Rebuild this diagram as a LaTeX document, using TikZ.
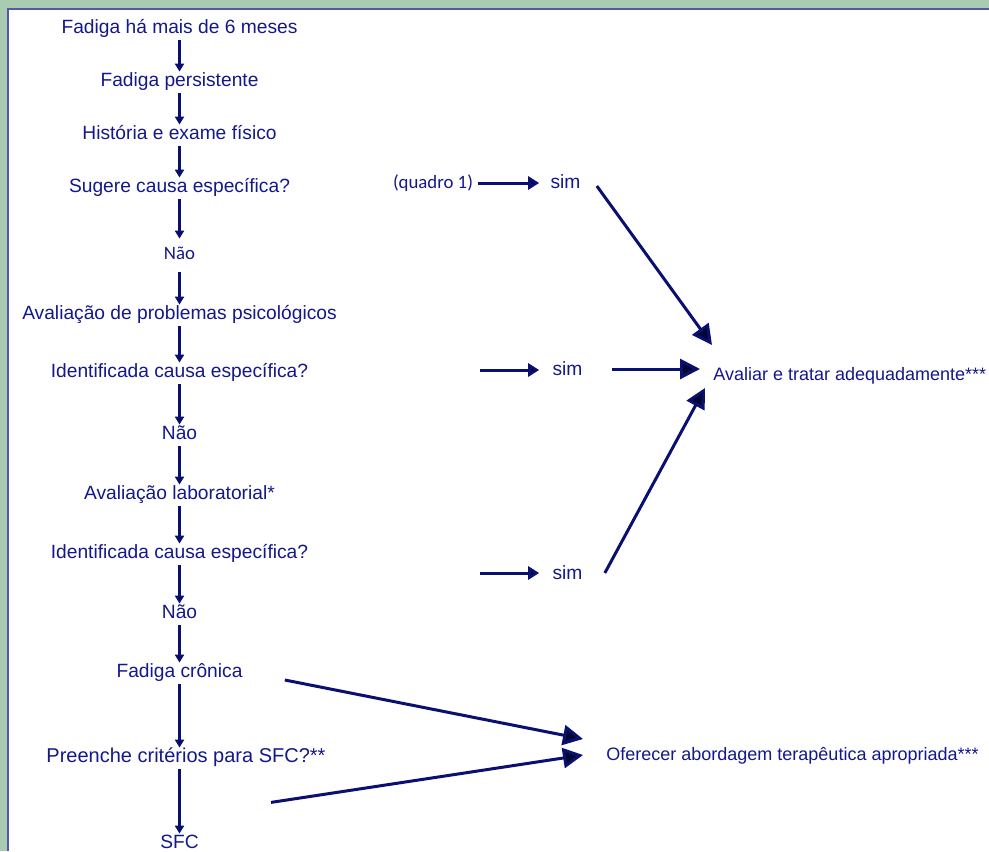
\documentclass[tikz,border=0pt]{standalone}
\usepackage{fontspec}
\setmainfont{Liberation Sans}
\newfontfamily\quadrofont{Carlito}
\usetikzlibrary{arrows.meta}

\definecolor{textblue}{RGB}{20,24,138}
\definecolor{lineblue}{RGB}{10,16,112}
\definecolor{tipblue}{RGB}{4,6,50}
\definecolor{framegreen}{RGB}{168,203,178}
\definecolor{frameblue}{RGB}{82,90,168}

\begin{document}
\begin{tikzpicture}[x=0.5pt, y=-0.5pt,
  passo/.style={text=textblue, font=\fontsize{9.6}{11}\selectfont, text height=7pt, text depth=2pt, inner sep=0pt},
  passoc/.style={passo, font=\quadrofont\fontsize{9.4}{11}\selectfont, inner ysep=3pt},
  saida/.style={passo, font=\fontsize{9}{11}\selectfont},
  seta/.style={draw=lineblue, line width=1.2pt, shorten <=1.5pt, -{Triangle[length=4pt, width=4.5pt, fill=tipblue]}},
  setah/.style={draw=lineblue, line width=1.5pt, -{Triangle[length=5.5pt, width=6.5pt, fill=tipblue]}},
  setag/.style={draw=lineblue, line width=1.5pt, -{Triangle[length=10pt, width=10pt, fill=tipblue]}}
]
  \useasboundingbox (0,0) rectangle (989,851);
  % moldura
  \fill[framegreen] (0,0) rectangle (989,851);
  \fill[white] (9,10) rectangle (989,851);
  \draw[frameblue, line width=1pt] (8,851) -- (8,9) -- (989,9);

  \node[passo] (seis) at (179.5,28) {Fadiga há mais de 6 meses};
  \node[passo] (persist) at (179.5,81) {Fadiga persistente};
  \node[passo] (historia) at (179.5,134) {História e exame físico};
  \node[passo] (sugere) at (179.5,187) {Sugere causa específica?};
  \node[passoc] (nao1) at (179.5,254) {Não};
  \node[passo] (psico) at (179.5,314) {Avaliação de problemas psicológicos};
  \node[passo] (ident1) at (179.5,372) {Identificada causa específica?};
  \node[passo] (nao2) at (179.5,434) {Não};
  \node[passo] (lab) at (179.5,494) {Avaliação laboratorial*};
  \node[passo] (ident2) at (179.5,553) {Identificada causa específica?};
  \node[passo] (nao3) at (179.5,613) {Não};
  \node[passo] (cronica) at (179.5,672) {Fadiga crônica};
  \node[passo, font=\fontsize{10}{11}\selectfont] (criterio) at (186,757) {Preenche critérios para SFC?**};
  \node[passo] (sfc) at (179.5,843) {SFC};

  \node[passoc] (quadro) at (433,183) {(quadro 1)};
  \node[passo] (sim1) at (565.5,183) {sim};
  \node[passo] (sim2) at (567.5,370) {sim};
  \node[passo] (sim3) at (567.5,574) {sim};
  \node[saida, anchor=west] (avaliar) at (713,375) {Avaliar e tratar adequadamente***};
  \node[saida, anchor=west] (oferecer) at (606,755) {Oferecer abordagem terapêutica apropriada***};

  % coluna principal
  \draw[seta] (seis) -- (persist);
  \draw[seta] (persist) -- (historia);
  \draw[seta] (historia) -- (sugere);
  \draw[seta] (sugere) -- (nao1);
  \draw[seta] (nao1) -- (psico);
  \draw[seta] (psico) -- (ident1);
  \draw[seta] (ident1) -- (nao2);
  \draw[seta] (nao2) -- (lab);
  \draw[seta] (lab) -- (ident2);
  \draw[seta] (ident2) -- (nao3);
  \draw[seta] (nao3) -- (cronica);
  \draw[seta] (cronica) -- (cronica |- criterio.north);
  \draw[seta] (criterio.south -| sfc) -- (sfc);

  \path (ident1.east) ++(171,-2) coordinate (ident1out);
  \path (ident2.east) ++(171,20) coordinate (ident2out);
  \path (sim1.east) ++(16,3) coordinate (sim1out);
  \path (sim2.east) ++(29,-1) coordinate (sim2out);
  \path (sim3.east) ++(22,-1) coordinate (sim3out);
  \path (avaliar.west) ++(-1,-30) coordinate (avaliarcima);
  \path (avaliar.west) ++(-13,-6) coordinate (avaliarlado);
  \path (avaliar.west) ++(-8,13) coordinate (avaliarbaixo);
  \path (cronica.east) ++(42,8) coordinate (cronicaout);
  \path (criterio.south) ++(85,36) coordinate (criterioout);
  \path (oferecer.west) ++(-23,-16) coordinate (oferecercima);
  \path (oferecer.west) ++(-23,0) coordinate (oferecerbaixo);

  \draw[setah, shorten <=2.5pt, shorten >=5.5pt] (quadro) -- (sim1);
  \draw[setah, shorten >=6.5pt] (ident1out) -- (ident1out -| sim2.west);
  \draw[setah, shorten >=6.5pt] (ident2out) -- (ident2out -| sim3.west);

  \draw[setag] (sim1out) -- (avaliarcima);
  \draw[setag] (sim2out) -- (avaliarlado);
  \draw[setag] (sim3out) -- (avaliarbaixo);
  \draw[setag] (cronicaout) -- (oferecercima);
  \draw[setag] (criterioout) -- (oferecerbaixo);
\end{tikzpicture}
\end{document}
